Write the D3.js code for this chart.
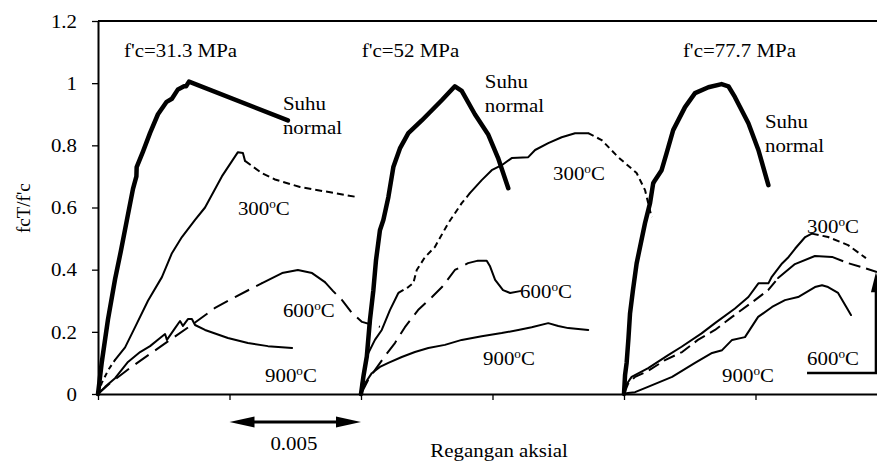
<!DOCTYPE html>
<html>
<head>
<meta charset="utf-8">
<script src="https://cdn.jsdelivr.net/npm/d3@7"></script>
<style>
  body { margin: 0; background: #fff; }
</style>
</head>
<body>
<div id="chart"></div>
<script>
// x = axial strain (x10^-3) measured from each specimen's own start, y = fcT/f'c
const groupOffsets = [0, 10, 20];
const groupTitles = ["f'c=31.3 MPa", "f'c=52 MPa", "f'c=77.7 MPa"];
const yTicks = [0, 0.2, 0.4, 0.6, 0.8, 1, 1.2];
const xTicks = [0, 5, 10, 15, 20, 25];

// f'c = 31.3 MPa
const normal31 = [[0,0],[0.14,0.10],[0.38,0.24],[0.65,0.37],[0.87,0.46],[1.10,0.56],[1.33,0.66],[1.46,0.70],[1.47,0.73],[1.71,0.78],[1.98,0.84],[2.28,0.90],[2.61,0.94],[2.81,0.95],[3.04,0.98],[3.27,0.99],[3.35,0.99],[3.46,1.005],[7.22,0.88]];
const t300_31 = [[0,0],[0.14,0.035],[0.39,0.077],[0.65,0.11],[1.03,0.15],[1.41,0.215],[1.90,0.30],[2.43,0.376],[2.81,0.453],[3.19,0.505],[3.69,0.56],[4.07,0.60],[4.71,0.70],[5.10,0.75],[5.32,0.778],[5.51,0.775],[5.59,0.75],[6.24,0.71],[6.73,0.69],[7.68,0.666],[9.89,0.633]];
const t600_31 = [[0,0],[0.46,0.035],[1.22,0.084],[1.98,0.129],[2.74,0.174],[3.69,0.23],[4.45,0.277],[5.21,0.312],[6.24,0.357],[7.0,0.389],[7.60,0.399],[8.14,0.389],[8.63,0.36],[8.94,0.331],[9.28,0.302],[9.66,0.26],[10.04,0.232],[10.72,0.216]];
const t900_31 = [[0,0],[0.27,0.023],[0.65,0.051],[1.14,0.103],[1.60,0.135],[1.98,0.154],[2.36,0.18],[2.55,0.193],[2.62,0.174],[2.93,0.212],[3.12,0.235],[3.23,0.219],[3.42,0.241],[3.57,0.241],[3.69,0.222],[4.07,0.206],[4.94,0.18],[5.70,0.164],[6.46,0.154],[7.38,0.148]];

// f'c = 52 MPa
const normal52 = [[0,0],[0.10,0.061],[0.22,0.12],[0.34,0.238],[0.47,0.334],[0.57,0.43],[0.72,0.527],[0.85,0.56],[1.04,0.633],[1.23,0.73],[1.48,0.79],[1.80,0.839],[2.31,0.88],[3.07,0.945],[3.57,0.99],[3.83,0.975],[4.33,0.90],[4.83,0.836],[5.21,0.76],[5.60,0.662]];
const t300_52 = [[0,0],[0.03,0.035],[0.15,0.093],[0.28,0.132],[0.53,0.174],[0.79,0.206],[1.10,0.27],[1.42,0.325],[1.80,0.344],[1.99,0.357],[2.12,0.399],[2.43,0.44],[2.81,0.473],[3.32,0.55],[3.83,0.614],[4.14,0.646],[4.59,0.688],[4.97,0.72],[5.35,0.736],[5.73,0.759],[6.36,0.762],[6.62,0.785],[7.12,0.807],[7.63,0.826],[8.14,0.839],[8.64,0.839],[9.15,0.817],[9.78,0.762],[10.48,0.711],[10.80,0.656],[11.05,0.569]];
const t600_52 = [[0,0],[0.27,0.045],[0.53,0.077],[0.91,0.122],[1.29,0.164],[1.67,0.215],[2.17,0.27],[2.70,0.312],[3.08,0.344],[3.57,0.399],[4.07,0.421],[4.45,0.429],[4.78,0.429],[4.90,0.412],[5.10,0.367],[5.40,0.334],[5.67,0.325],[6.05,0.331]];
const t900_52 = [[0,0],[0.11,0.029],[0.41,0.067],[0.72,0.087],[1.04,0.10],[1.55,0.119],[2.05,0.135],[2.56,0.148],[3.19,0.158],[3.83,0.174],[4.59,0.186],[5.35,0.196],[5.98,0.206],[6.49,0.215],[7.12,0.228],[7.50,0.219],[7.88,0.212],[8.64,0.206]];

// f'c = 77.7 MPa
const normal77 = [[0,0],[0.04,0.061],[0.10,0.10],[0.17,0.18],[0.23,0.26],[0.34,0.334],[0.48,0.42],[0.61,0.473],[0.80,0.55],[0.99,0.614],[1.11,0.678],[1.18,0.688],[1.43,0.72],[1.62,0.775],[1.87,0.849],[2.32,0.923],[2.70,0.968],[3.21,0.987],[3.71,0.997],[3.97,0.99],[4.22,0.955],[4.73,0.871],[5.11,0.785],[5.49,0.672]];
const t300_77 = [[0,0],[0.08,0.029],[0.29,0.055],[0.92,0.083],[1.68,0.125],[2.19,0.152],[2.95,0.195],[3.46,0.228],[4.22,0.275],[4.73,0.312],[5.11,0.356],[5.49,0.356],[5.62,0.377],[6.01,0.42],[6.26,0.441],[6.51,0.468],[6.89,0.505],[7.14,0.516],[7.76,0.505],[8.52,0.479],[9.20,0.437]];
const t600_77 = [[0,0],[0.15,0.032],[0.42,0.055],[0.91,0.074],[1.56,0.109],[2.21,0.135],[2.81,0.174],[3.46,0.206],[4.11,0.248],[4.98,0.302],[5.48,0.334],[5.86,0.373],[6.50,0.418],[7.26,0.444],[7.91,0.441],[8.52,0.421],[9.05,0.408],[9.62,0.392]];
const t900_77 = [[0,0],[0.15,0.003],[0.42,0.006],[0.91,0.023],[1.83,0.055],[2.70,0.10],[3.35,0.132],[3.73,0.141],[4.11,0.174],[4.60,0.183],[5.10,0.248],[5.63,0.28],[6.12,0.302],[6.62,0.312],[7.26,0.344],[7.53,0.35],[7.76,0.344],[8.14,0.325],[8.52,0.27],[8.63,0.254]];

const width = 877, height = 461;
const font = "'Liberation Serif', 'DejaVu Serif', 'Times New Roman', serif";
const thick = 4.5, thin = 2;
const shortDash = "7,4", longDash = "16,8";

// parts: [from x, to x, dash] -- null dash means solid
const curves = [
  {g: 0, pts: normal31, w: thick, parts: [[0, 99, null]]},
  {g: 0, pts: t300_31, w: thin, parts: [[0, 0.65, "5,4"], [0.65, 5.59, null], [5.59, 99, shortDash]]},
  {g: 0, pts: t600_31, w: thin, parts: [[0, 6.24, longDash], [6.24, 8.63, null], [8.63, 99, longDash]]},
  {g: 0, pts: t900_31, w: thin, parts: [[0, 99, null]]},
  {g: 1, pts: normal52, w: thick, parts: [[0, 99, null]]},
  {g: 1, pts: t300_52, w: thin, parts: [[0, 1.42, null], [1.42, 4.14, "6,4"], [4.14, 8.64, null], [8.64, 99, "6,4"]]},
  {g: 1, pts: t600_52, w: thin, parts: [[0, 4.45, longDash], [4.45, 99, null]]},
  {g: 1, pts: t900_52, w: thin, parts: [[0, 99, null]]},
  {g: 2, pts: normal77, w: thick, parts: [[0, 99, null]]},
  {g: 2, pts: t300_77, w: thin, parts: [[0, 7.14, null], [7.14, 99, shortDash]]},
  {g: 2, pts: t600_77, w: thin, parts: [[0, 5.86, "12,6"], [5.86, 7.91, null], [7.91, 99, "12,6"]]},
  {g: 2, pts: t900_77, w: thin, parts: [[0, 99, null]]}
];

// label anchors in data units (start of text, baseline), relative to each group
const normalLabels = [[7.03, 0.913], [4.71, 0.984], [5.36, 0.855]];
const tempLabels = [
  [0, "300", 5.32, 0.576], [0, "600", 7.03, 0.248], [0, "900", 6.35, 0.039],
  [1, "300", 7.30, 0.688], [1, "600", 6.05, 0.309], [1, "900", 4.64, 0.093],
  [2, "300", 6.96, 0.518], [2, "600", 6.96, 0.093], [2, "900", 3.73, 0.039]
];
const titleX = [0.99, 0.03, 2.24];

const x = d3.scaleLinear().domain([0, 29.62]).range([98, 877]);
const y = d3.scaleLinear().domain([0, 1.2]).range([394, 21]);
const sx = 1.1; // the source figure is slightly stretched sideways

const svg = d3.select("#chart").append("svg")
  .attr("width", width)
  .attr("height", height)
  .attr("font-family", font)
  .style("display", "block");

function putText(px, py, size) {
  return svg.append("text")
    .attr("transform", `translate(${px},${py}) scale(${sx},1)`)
    .attr("font-family", font)
    .attr("fill", "#000")
    .style("font-size", size + "px");
}

// axes
const yAxis = svg.append("g")
    .attr("transform", `translate(${x(0)},0)`)
  .call(d3.axisLeft(y).tickValues(yTicks).tickSize(6).tickSizeOuter(0).tickFormat(d3.format("~g")));
yAxis.attr("font-family", font).attr("font-size", 19);
yAxis.select(".domain").attr("stroke-width", 2);
yAxis.selectAll(".tick line").attr("stroke-width", 1.3);
yAxis.selectAll(".tick text")
  .attr("x", -21 / sx)
  .attr("dy", "0.33em")
  .attr("transform", `scale(${sx},1)`);

const xAxis = svg.append("g")
    .attr("transform", `translate(0,${y(0)})`)
  .call(d3.axisBottom(x).tickValues(xTicks).tickSize(6).tickSizeOuter(0).tickFormat(() => ""));
xAxis.select(".domain").attr("stroke-width", 2);
xAxis.selectAll(".tick line").attr("stroke-width", 1.3);

svg.append("line")
  .attr("x1", x(0)).attr("x2", x(29.62))
  .attr("y1", y(1.2)).attr("y2", y(1.2))
  .attr("stroke", "#000").attr("stroke-width", 2);

// curves
const line = d3.line()
  .x(d => x(d[0]))
  .y(d => y(d[1]));

const curveG = svg.append("g");
curves.forEach(c => {
  const off = groupOffsets[c.g];
  c.parts.forEach(([a, b, dash]) => {
    const seg = c.pts.filter(p => p[0] >= a && p[0] <= b).map(p => [p[0] + off, p[1]]);
    curveG.append("path")
      .attr("d", line(seg))
      .attr("fill", "none")
      .attr("stroke", "#000")
      .attr("stroke-width", c.w)
      .attr("stroke-linejoin", "round")
      .attr("stroke-linecap", dash ? "butt" : "round")
      .attr("stroke-dasharray", dash);
  });
});

// labels
groupTitles.forEach((t, i) => {
  putText(x(titleX[i] + groupOffsets[i]), y(1.084), 19).text(t);
});

normalLabels.forEach(([lx, ly], i) => {
  const px = x(lx + groupOffsets[i]);
  putText(px, y(ly), 19).text("Suhu");
  putText(px, y(ly) + 24, 19).text("normal");
});

tempLabels.forEach(([g, t, lx, ly]) => {
  const txt = putText(x(lx + groupOffsets[g]), y(ly), 19);
  txt.append("tspan").text(t);
  txt.append("tspan").attr("dy", -7).style("font-size", "12px").text("o");
  txt.append("tspan").attr("dy", 7).text("C");
});

svg.append("text")
  .attr("transform", `translate(30,${y(0.598)}) rotate(-90)`)
  .attr("text-anchor", "middle")
  .attr("font-family", font)
  .style("font-size", "19px")
  .text("fcT/f'c");

putText(x(15.25), y(0) + 63, 19)
  .attr("text-anchor", "middle")
  .text("Regangan aksial");

// 0.005 scale bar under the first specimen
const barY = y(0) + 28;
svg.append("line")
  .attr("x1", x(5) + 10).attr("x2", x(10) - 10)
  .attr("y1", barY).attr("y2", barY)
  .attr("stroke", "#000").attr("stroke-width", 3);
[[x(5), 1], [x(10), -1]].forEach(([tip, dir]) => {
  svg.append("path")
    .attr("d", `M${tip},${barY}L${tip + dir * 25},${barY - 5.5}L${tip + dir * 25},${barY + 5.5}Z`)
    .attr("fill", "#000");
});
putText(x(7.45), y(0) + 56, 19)
  .attr("text-anchor", "middle")
  .text("0.005");

// pointer from the 600 label up to its curve on the right
const elbowY = y(0.0675), arrowX = x(29.58), tipY = y(0.392);
svg.append("path")
  .attr("d", `M${x(26.96)},${elbowY}H${arrowX}V${tipY + 18}`)
  .attr("fill", "none")
  .attr("stroke", "#000")
  .attr("stroke-width", 2.5);
svg.append("path")
  .attr("d", `M${arrowX},${tipY}L${arrowX - 5},${tipY + 20}L${arrowX + 5},${tipY + 20}Z`)
  .attr("fill", "#000");
</script>
</body>
</html>
